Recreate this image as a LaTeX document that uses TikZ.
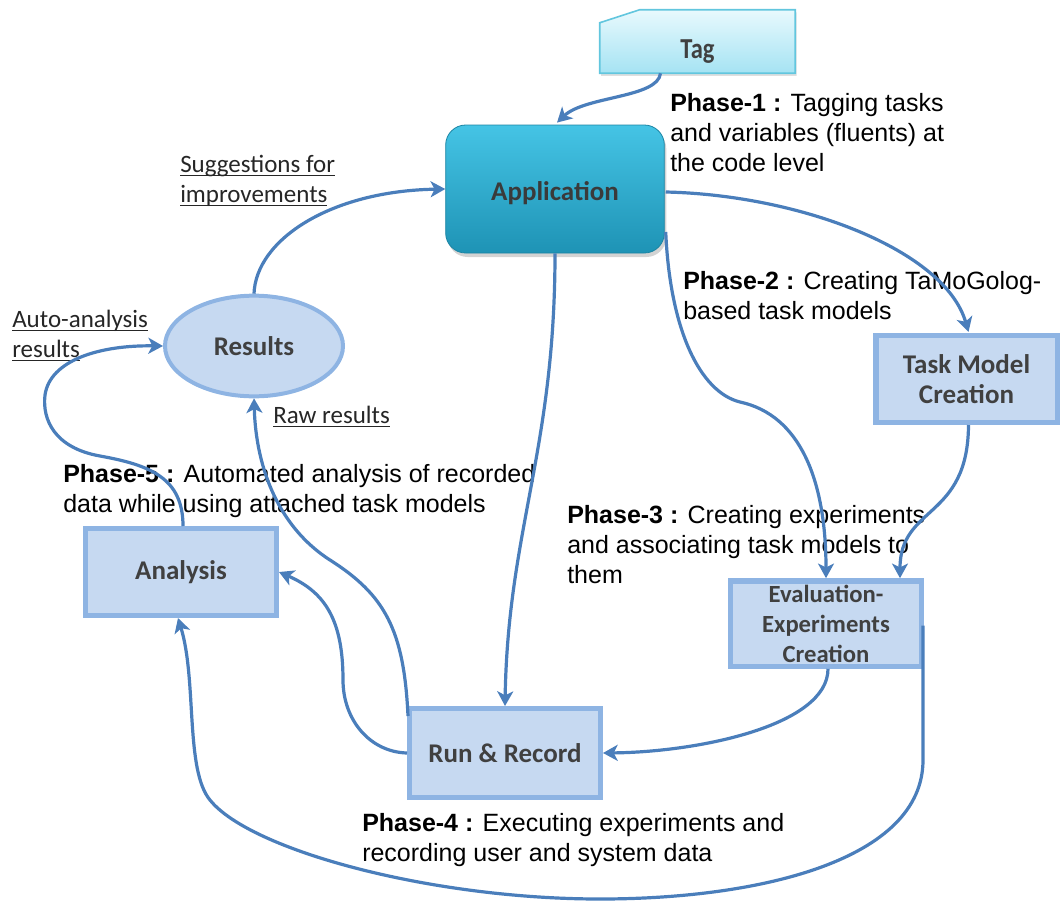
\documentclass[tikz,border=0pt]{standalone}
\usepackage{fontspec}
\setmainfont{Liberation Sans}
\newfontfamily\carlito{Carlito}
\usetikzlibrary{arrows.meta,shapes.geometric,shadows,calc,backgrounds}

\definecolor{flowblue}{HTML}{4A7EBB}
\definecolor{boxfill}{HTML}{C6D9F1}
\definecolor{boxline}{HTML}{8EB4E3}
\definecolor{labelgray}{HTML}{404040}
\definecolor{apptop}{HTML}{45C4E5}
\definecolor{appbot}{HTML}{1E93B5}
\definecolor{tagtop}{HTML}{E8F9FD}
\definecolor{tagbot}{HTML}{A5E3F3}
\definecolor{tagline}{HTML}{62C6DE}

% lines of a note, aligned on the baseline of the first line
\newcommand{\notelines}[1]{\begin{tabular}[t]{@{}l@{}}#1\end{tabular}}
% underline at a fixed depth below the baseline
\newcommand{\undertext}[1]{\leavevmode\setbox0\hbox{#1}%
  \rlap{\rule[-3.3pt]{\wd0}{0.9pt}}\box0}

\begin{document}
\begin{tikzpicture}[x=0.75pt,y=-0.75pt,
  link/.style={draw=flowblue, line width=2.4pt,
    -{Stealth[length=11pt,width=12pt,inset=3pt]}},
  stepbox/.style={rectangle, draw=boxline, fill=boxfill, line width=4pt,
    text=labelgray, align=center, inner sep=0pt,
    font=\carlito\bfseries\fontsize{20.25}{23}\selectfont},
  phase/.style={anchor=base west, inner sep=0pt,
    font=\fontsize{18.75}{22.5}\selectfont},
  notelabel/.style={anchor=base west, inner sep=0pt, text=black!85,
    font=\carlito\fontsize{18.75}{22.5}\selectfont}]

\useasboundingbox (0,0) rectangle (1064,904);

% ---------- nodes ----------
\node[rectangle, minimum width=146.25pt, minimum height=47.25pt, inner sep=0pt,
  text height=26pt, text depth=0pt,
  text=labelgray, font=\carlito\bfseries\fontsize{18.4}{22}\selectfont]
  (tag) at (697.5,41.5) {\scalebox{1}[1.18]{Tag}};
\begin{pgfonlayer}{background}
  \path[top color=tagtop, bottom color=tagbot, draw=tagline, line width=1.2pt,
    drop shadow={opacity=0.25, shadow xshift=1pt, shadow yshift=-2pt}]
    (tag.south west) -- ($(tag.north west)+(0,13)$) -- ($(tag.north west)+(40,0)$)
    -- (tag.north east) -- (tag.south east) -- cycle;
\end{pgfonlayer}

\node[rectangle, rounded corners=15pt, minimum width=164pt, minimum height=96pt,
  inner sep=0pt, text height=17pt, text depth=0.5pt,
  top color=apptop, bottom color=appbot, draw=appbot!90!black,
  line width=0.6pt, text=labelgray!90!black,
  drop shadow={opacity=0.35, shadow xshift=1.5pt, shadow yshift=-3pt},
  font=\carlito\bfseries\fontsize{20.25}{23}\selectfont]
  (app) at (555,189) {Application};

\node[ellipse, draw=boxline, fill=boxfill, line width=3pt, inner sep=0pt,
  minimum width=133.5pt, minimum height=75.5pt, text=labelgray,
  font=\carlito\bfseries\fontsize{20.25}{23}\selectfont]
  (results) at (254,346) {Results};

\node[stepbox, minimum width=136pt, minimum height=65pt] (task) at (966.5,379)
  {Task Model\\Creation};
\node[stepbox, minimum width=143pt, minimum height=64pt,
  font=\carlito\bfseries\fontsize{18.5}{22.5}\selectfont] (eval) at (826,623.5)
  {Evaluation-\\Experiments\\Creation};
\node[stepbox, minimum width=143pt, minimum height=66.5pt] (run) at (505,753)
  {Run \& Record};
\node[stepbox, minimum width=143pt, minimum height=65pt] (analysis) at (181,572)
  {Analysis};

% ---------- phase descriptions ----------
\node[phase] (p1) at (670,111) {\notelines{\textbf{Phase-1 :} Tagging tasks\\
  and variables (fluents) at\\ the code level}};
\node[phase] (p2) at (683,289) {\notelines{\textbf{Phase-2 :} Creating TaMoGolog-\\
  based task models}};
\node[phase] (p3) at (567,523) {\notelines{\textbf{Phase-3 :} Creating experiments\\
  and associating task models to\\ them}};
\node[phase] (p4) at (362,831) {\notelines{\textbf{Phase-4 :} Executing experiments and\\
  recording user and system data}};
\node[phase] (p5) at (63,482) {\notelines{\textbf{Phase-5 :} Automated analysis of recorded\\
  data while using attached task models}};

% ---------- connector labels ----------
\node[notelabel] (sugg) at (180,172) {\notelines{\undertext{Suggestions for}\\
  \undertext{improvements}}};
\node[notelabel] (auto) at (12,327) {\notelines{\undertext{Auto-analysis}\\
  \undertext{results}}};
\node[notelabel] (raw) at (273,423) {\undertext{Raw results}};

% ---------- connectors ----------
\draw[link] ($(tag.south)+(-37,0)$) .. controls (658,98) and (585,96)
  .. ($(app.north)+(2,-2)$);
\draw[link] (results.north) .. controls (256,240) and (330,191) .. (app.west);
\draw[link] ($(app.east)+(1,3)$) .. controls (800,195) and (945,250)
  .. ($(task.north)+(2,-1)$);
\draw[link] ($(app.east)+(1,43)$) .. controls (670,330) and (700,392) .. (740,402)
  .. controls (800,415) and (826,480) .. (eval.north);
\draw[link] ($(task.south)+(2,0)$) .. controls (968,520) and (900,505)
  .. ($(eval.north)+(74,0)$);
\draw[link] (app.south) .. controls (555,450) and (508,530) .. (run.north);
\draw[link] ($(eval.south)+(2,0)$) .. controls (828,725) and (700,752) .. (run.east);
\draw[link] (run.west) .. controls (370,752) and (343,720) .. (343,680)
  .. controls (343,620) and (325,592) .. (analysis.east);
\draw[link] ($(run.north west)+(1,10)$) .. controls (404,630) and (385,595) .. (330,560)
  .. controls (280,528) and (256,470) .. (results.south);
\draw[link] ($(analysis.north)+(2,0)$) .. controls (183,478) and (150,465) .. (100,456)
  .. controls (55,448) and (42,420) .. (45,395)
  .. controls (50,360) and (100,345) .. (results.west);
\draw[link] ($(eval.east)+(-1,2)$) -- (923,760) .. controls (923,860) and (760,899)
  .. (600,899) .. controls (430,899) and (250,850) .. (210,800)
  .. controls (185,770) and (197,680) .. ($(analysis.south)+(-3,0)$);

\end{tikzpicture}
\end{document}
